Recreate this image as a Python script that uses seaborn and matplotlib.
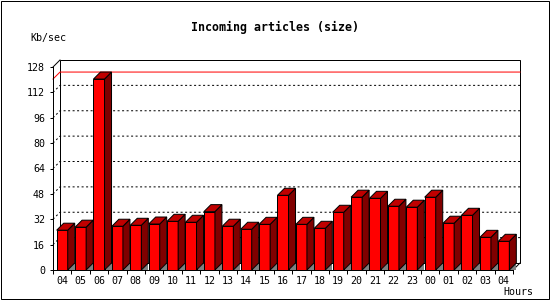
import numpy as np
import pandas as pd
import matplotlib
matplotlib.use("Agg")
import matplotlib.pyplot as plt
from matplotlib.patches import Polygon, Rectangle
import seaborn as sns

# ---- data ----
hours = ["04", "05", "06", "07", "08", "09", "10", "11", "12", "13", "14", "15",
         "16", "17", "18", "19", "20", "21", "22", "23", "00", "01", "02", "03", "04"]
kbps = [25.1, 27.0, 120.4, 27.6, 28.2, 29.0, 30.7, 30.1, 36.8, 27.6, 25.7, 28.8,
        47.1, 28.8, 26.3, 36.4, 45.9, 45.2, 40.2, 39.6, 45.9, 29.5, 34.5, 20.6, 18.1]
yticks = [0, 16, 32, 48, 64, 80, 96, 112, 128]
title = "Incoming articles (size)"
ylabel = "Kb/sec"
xlabel = "Hours"

df = pd.DataFrame({"slot": list(range(len(hours))), "kbps": kbps})

W, H, DPI = 550, 300, 100
FONT = "DejaVu Sans Mono"
PX = 72.0 / DPI  # points per pixel

fig = plt.figure(figsize=(W / DPI, H / DPI), dpi=DPI)
fig.patch.set_facecolor("white")

ax_l, ax_r, ax_top, ax_bot = 53, 513, 67, 270
ax = fig.add_axes([ax_l / W, (H - ax_bot) / H, (ax_r - ax_l) / W, (ax_bot - ax_top) / H])
ax.set_facecolor("none")

n = len(hours)
ymax = yticks[-1]
xmin, xmax = -0.5, n - 0.5
depth_px = 7
dx = depth_px / ((ax_r - ax_l) / n)
dy = depth_px / ((ax_bot - ax_top) / ymax)
bw = 0.6

sns.barplot(data=df, x="slot", y="kbps", color="#ff0000", saturation=1,
            width=bw, edgecolor="black", linewidth=PX, errorbar=None, ax=ax)
for p in ax.patches:
    p.set_zorder(3)

ax.set_xlim(xmin, xmax)
ax.set_ylim(0, ymax)

# back wall
ax.add_patch(Rectangle((xmin + dx, dy), (xmax - xmin), ymax, facecolor="white",
                       edgecolor="black", linewidth=PX, clip_on=False, zorder=0.5))

# dotted grid on back wall with diagonal from front axis
for v in yticks[1:-1]:
    ax.plot([xmin, xmin + dx, xmax + dx], [v, v + dy, v + dy], color="black",
            linewidth=PX, linestyle=(0, (2, 2.5)), clip_on=False, zorder=0.6)

# maximum line
m = max(kbps)
ax.plot([xmin, xmin + dx, xmax + dx], [m, m + dy, m + dy], color="#ff0000",
        linewidth=PX, clip_on=False, zorder=0.7)

# corner diagonals
ax.plot([xmin, xmin + dx], [ymax, ymax + dy], color="black", linewidth=PX,
        clip_on=False, zorder=0.8)
ax.plot([xmax, xmax + dx], [0, dy], color="black", linewidth=PX,
        clip_on=False, zorder=0.8)

# 3D faces for each bar
for i, h in enumerate(kbps):
    x0, x1 = i - bw / 2, i + bw / 2
    ax.add_patch(Polygon([(x1, 0), (x1 + dx, 0), (x1 + dx, dy)], closed=True,
                         facecolor="#808080", edgecolor="none", clip_on=False, zorder=2))
    ax.add_patch(Polygon([(x1, 0), (x1, h), (x1 + dx, h + dy), (x1 + dx, dy)], closed=True,
                         facecolor="#800000", edgecolor="black", linewidth=PX,
                         clip_on=False, zorder=3))
    ax.add_patch(Polygon([(x0, h), (x1, h), (x1 + dx, h + dy), (x0 + dx, h + dy)], closed=True,
                         facecolor="#c00000", edgecolor="black", linewidth=PX,
                         clip_on=False, zorder=3))

# spines / ticks
for s in ["top", "right"]:
    ax.spines[s].set_visible(False)
for s in ["left", "bottom"]:
    ax.spines[s].set_linewidth(PX)
    ax.spines[s].set_color("black")
    ax.spines[s].set_zorder(4)

ax.set_yticks(yticks)
ax.set_yticklabels([str(v) for v in yticks], fontfamily=FONT, fontsize=7.2)
ax.tick_params(axis="y", direction="out", length=3 * PX, width=PX, pad=5 * PX, colors="black")

ax.set_xticks(range(n))
ax.set_xticklabels(hours, fontfamily=FONT, fontsize=7.2)
ax.set_xticks(np.arange(n + 1) - 0.5, minor=True)
ax.tick_params(axis="x", which="major", length=0, pad=6 * PX)
ax.tick_params(axis="x", which="minor", direction="out", length=4 * PX, width=PX)
ax.set_xlabel("")
ax.set_ylabel("")

# texts
fig.text(275 / W, 1 - 27 / H, title, ha="center", va="center",
         fontfamily=FONT, fontweight="bold", fontsize=8.4)
fig.text(30 / W, 1 - 37.5 / H, ylabel, ha="left", va="center",
         fontfamily=FONT, fontsize=7.2)
fig.text(533 / W, 1 - 292 / H, xlabel, ha="right", va="center",
         fontfamily=FONT, fontsize=7.2)

# outer border
fig.add_artist(Rectangle((0.5 / W, 1.5 / H), 548 / W, 298 / H, transform=fig.transFigure,
                         facecolor="none", edgecolor="black", linewidth=PX))

fig.savefig("out.png", dpi=DPI)
